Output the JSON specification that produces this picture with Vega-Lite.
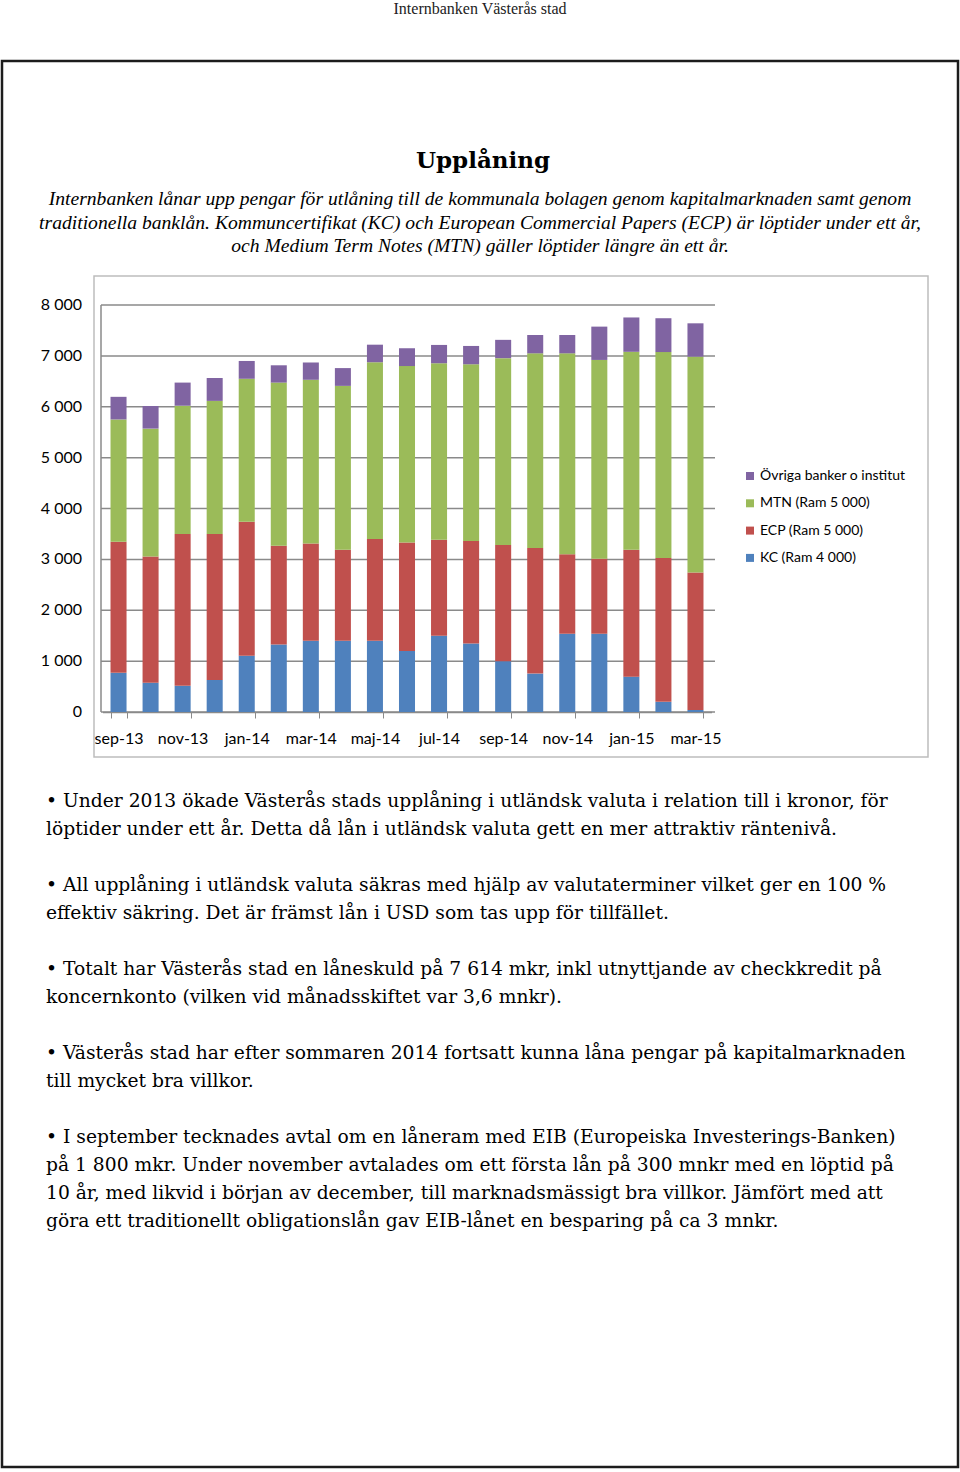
{
  "$schema": "https://vega.github.io/schema/vega-lite/v6.json",
  "width": 956,
  "height": 1406,
  "autosize": "none",
  "padding": {"left": 2, "top": 61, "right": 2, "bottom": 5},
  "background": "white",
  "title": {"text": "Internbanken Västerås stad", "font": "Liberation Serif", "fontSize": 16, "fontWeight": "normal", "color": "#222222", "anchor": "middle", "frame": "group", "offset": 44.5},
  "config": {
    "view": {"stroke": "#1c1c1c", "strokeWidth": 2.5},
    "text": {"baseline": "middle"},
    "locale": {"number": {"decimal": ",", "thousands": " ", "grouping": [3], "currency": ["", " kr"]}}
  },
  "datasets": {
    "grid": [{"v": 0}, {"v": 1000}, {"v": 2000}, {"v": 3000}, {"v": 4000}, {"v": 5000}, {"v": 6000}, {"v": 7000}, {"v": 8000}],
    "borrowing": [
      {"month": "sep-13", "serie": "KC (Ram 4 000)", "value": 770}, {"month": "sep-13", "serie": "ECP (Ram 5 000)", "value": 2575}, {"month": "sep-13", "serie": "MTN (Ram 5 000)", "value": 2405}, {"month": "sep-13", "serie": "Övriga banker o institut", "value": 445},
      {"month": "okt-13", "serie": "KC (Ram 4 000)", "value": 575}, {"month": "okt-13", "serie": "ECP (Ram 5 000)", "value": 2480}, {"month": "okt-13", "serie": "MTN (Ram 5 000)", "value": 2515}, {"month": "okt-13", "serie": "Övriga banker o institut", "value": 445},
      {"month": "nov-13", "serie": "KC (Ram 4 000)", "value": 515}, {"month": "nov-13", "serie": "ECP (Ram 5 000)", "value": 2985}, {"month": "nov-13", "serie": "MTN (Ram 5 000)", "value": 2520}, {"month": "nov-13", "serie": "Övriga banker o institut", "value": 455},
      {"month": "dec-13", "serie": "KC (Ram 4 000)", "value": 630}, {"month": "dec-13", "serie": "ECP (Ram 5 000)", "value": 2870}, {"month": "dec-13", "serie": "MTN (Ram 5 000)", "value": 2615}, {"month": "dec-13", "serie": "Övriga banker o institut", "value": 450},
      {"month": "jan-14", "serie": "KC (Ram 4 000)", "value": 1105}, {"month": "jan-14", "serie": "ECP (Ram 5 000)", "value": 2635}, {"month": "jan-14", "serie": "MTN (Ram 5 000)", "value": 2810}, {"month": "jan-14", "serie": "Övriga banker o institut", "value": 350},
      {"month": "feb-14", "serie": "KC (Ram 4 000)", "value": 1325}, {"month": "feb-14", "serie": "ECP (Ram 5 000)", "value": 1945}, {"month": "feb-14", "serie": "MTN (Ram 5 000)", "value": 3205}, {"month": "feb-14", "serie": "Övriga banker o institut", "value": 340},
      {"month": "mar-14", "serie": "KC (Ram 4 000)", "value": 1400}, {"month": "mar-14", "serie": "ECP (Ram 5 000)", "value": 1910}, {"month": "mar-14", "serie": "MTN (Ram 5 000)", "value": 3220}, {"month": "mar-14", "serie": "Övriga banker o institut", "value": 340},
      {"month": "apr-14", "serie": "KC (Ram 4 000)", "value": 1400}, {"month": "apr-14", "serie": "ECP (Ram 5 000)", "value": 1790}, {"month": "apr-14", "serie": "MTN (Ram 5 000)", "value": 3220}, {"month": "apr-14", "serie": "Övriga banker o institut", "value": 350},
      {"month": "maj-14", "serie": "KC (Ram 4 000)", "value": 1400}, {"month": "maj-14", "serie": "ECP (Ram 5 000)", "value": 2000}, {"month": "maj-14", "serie": "MTN (Ram 5 000)", "value": 3475}, {"month": "maj-14", "serie": "Övriga banker o institut", "value": 345},
      {"month": "jun-14", "serie": "KC (Ram 4 000)", "value": 1200}, {"month": "jun-14", "serie": "ECP (Ram 5 000)", "value": 2130}, {"month": "jun-14", "serie": "MTN (Ram 5 000)", "value": 3470}, {"month": "jun-14", "serie": "Övriga banker o institut", "value": 350},
      {"month": "jul-14", "serie": "KC (Ram 4 000)", "value": 1500}, {"month": "jul-14", "serie": "ECP (Ram 5 000)", "value": 1885}, {"month": "jul-14", "serie": "MTN (Ram 5 000)", "value": 3470}, {"month": "jul-14", "serie": "Övriga banker o institut", "value": 360},
      {"month": "aug-14", "serie": "KC (Ram 4 000)", "value": 1345}, {"month": "aug-14", "serie": "ECP (Ram 5 000)", "value": 2015}, {"month": "aug-14", "serie": "MTN (Ram 5 000)", "value": 3475}, {"month": "aug-14", "serie": "Övriga banker o institut", "value": 360},
      {"month": "sep-14", "serie": "KC (Ram 4 000)", "value": 1000}, {"month": "sep-14", "serie": "ECP (Ram 5 000)", "value": 2285}, {"month": "sep-14", "serie": "MTN (Ram 5 000)", "value": 3670}, {"month": "sep-14", "serie": "Övriga banker o institut", "value": 360},
      {"month": "okt-14", "serie": "KC (Ram 4 000)", "value": 755}, {"month": "okt-14", "serie": "ECP (Ram 5 000)", "value": 2470}, {"month": "okt-14", "serie": "MTN (Ram 5 000)", "value": 3825}, {"month": "okt-14", "serie": "Övriga banker o institut", "value": 360},
      {"month": "nov-14", "serie": "KC (Ram 4 000)", "value": 1540}, {"month": "nov-14", "serie": "ECP (Ram 5 000)", "value": 1560}, {"month": "nov-14", "serie": "MTN (Ram 5 000)", "value": 3950}, {"month": "nov-14", "serie": "Övriga banker o institut", "value": 360},
      {"month": "dec-14", "serie": "KC (Ram 4 000)", "value": 1540}, {"month": "dec-14", "serie": "ECP (Ram 5 000)", "value": 1470}, {"month": "dec-14", "serie": "MTN (Ram 5 000)", "value": 3910}, {"month": "dec-14", "serie": "Övriga banker o institut", "value": 655},
      {"month": "jan-15", "serie": "KC (Ram 4 000)", "value": 695}, {"month": "jan-15", "serie": "ECP (Ram 5 000)", "value": 2495}, {"month": "jan-15", "serie": "MTN (Ram 5 000)", "value": 3890}, {"month": "jan-15", "serie": "Övriga banker o institut", "value": 675},
      {"month": "feb-15", "serie": "KC (Ram 4 000)", "value": 200}, {"month": "feb-15", "serie": "ECP (Ram 5 000)", "value": 2825}, {"month": "feb-15", "serie": "MTN (Ram 5 000)", "value": 4050}, {"month": "feb-15", "serie": "Övriga banker o institut", "value": 665},
      {"month": "mar-15", "serie": "KC (Ram 4 000)", "value": 40}, {"month": "mar-15", "serie": "ECP (Ram 5 000)", "value": 2700}, {"month": "mar-15", "serie": "MTN (Ram 5 000)", "value": 4245}, {"month": "mar-15", "serie": "Övriga banker o institut", "value": 655}
    ],
    "lines": [
      {"block": "title", "id": "t", "text": "Upplåning"},
      {"block": "intro", "id": "i1", "text": "Internbanken lånar upp pengar för utlåning till de kommunala bolagen genom kapitalmarknaden samt genom"},
      {"block": "intro", "id": "i2", "text": "traditionella banklån. Kommuncertifikat (KC) och European Commercial Papers (ECP) är löptider under ett år,"},
      {"block": "intro", "id": "i3", "text": "och Medium Term Notes (MTN) gäller löptider längre än ett år."},
      {"block": "bullet", "id": "b1", "text": "• Under 2013 ökade Västerås stads upplåning i utländsk valuta i relation till i kronor, för"},
      {"block": "bullet", "id": "b2", "text": "löptider under ett år.  Detta då lån i utländsk valuta gett en mer attraktiv räntenivå."},
      {"block": "bullet", "id": "b3", "text": "• All upplåning i utländsk valuta säkras med hjälp av valutaterminer vilket ger en 100 %"},
      {"block": "bullet", "id": "b4", "text": "effektiv säkring. Det är främst lån i USD som tas upp för tillfället."},
      {"block": "bullet", "id": "b5", "text": "• Totalt har Västerås stad en låneskuld på 7 614 mkr, inkl utnyttjande av checkkredit på"},
      {"block": "bullet", "id": "b6", "text": "koncernkonto (vilken vid månadsskiftet var 3,6 mnkr)."},
      {"block": "bullet", "id": "b7", "text": "• Västerås stad har efter sommaren 2014 fortsatt kunna låna pengar på kapitalmarknaden"},
      {"block": "bullet", "id": "b8", "text": "till mycket bra villkor."},
      {"block": "bullet", "id": "b9", "text": "• I september tecknades avtal om en låneram med EIB (Europeiska Investerings-Banken)"},
      {"block": "bullet", "id": "b10", "text": "på 1 800 mkr. Under november avtalades om ett första lån på 300 mnkr med en löptid på"},
      {"block": "bullet", "id": "b11", "text": "10 år, med likvid i början av december, till marknadsmässigt bra villkor. Jämfört med att"},
      {"block": "bullet", "id": "b12", "text": "göra ett traditionellt obligationslån gav EIB-lånet en besparing på ca 3 mnkr."}
    ]
  },
  "layer": [
    {
      "layer": [
        {
          "data": {"name": "grid"},
          "encoding": {
            "x": {"datum": 0, "type": "quantitative", "scale": {"domain": [0, 1], "range": [99, 713]}, "axis": null},
            "y": {"field": "v", "type": "quantitative", "scale": {"domain": [0, 8000], "range": [651, 244], "nice": false, "zero": true}, "axis": null}
          },
          "layer": [
            {
              "mark": {"type": "rule", "color": "#8a8a8a", "strokeWidth": 1.5},
              "encoding": {"x2": {"datum": 1}}
            },
            {
              "mark": {"type": "rule", "color": "#8a8a8a", "strokeWidth": 1.5},
              "encoding": {
                "y": {"aggregate": "min", "field": "v", "type": "quantitative"},
                "y2": {"aggregate": "max", "field": "v"}
              }
            },
            {
              "mark": {"type": "text", "font": "Lato", "fontSize": 16, "color": "#000000", "align": "right", "dx": -19},
              "encoding": {
                "text": {"field": "v", "type": "quantitative", "format": ",d", "formatType": "number"}
              }
            }
          ]
        },
        {
          "data": {"name": "borrowing"},
          "transform": [{"calculate": "indexof(['KC (Ram 4 000)', 'ECP (Ram 5 000)', 'MTN (Ram 5 000)', 'Övriga banker o institut'], datum.serie)", "as": "k"}],
          "mark": {"type": "bar"},
          "encoding": {
            "x": {
              "field": "month", "type": "nominal", "sort": null,
              "scale": {"range": [100.5, 709.5], "paddingInner": 0.5, "paddingOuter": 0.25},
              "axis": {"orient": "bottom", "offset": -755, "values": ["sep-13", "nov-13", "jan-14", "mar-14", "maj-14", "jul-14", "sep-14", "nov-14", "jan-15", "mar-15"], "labelAngle": 0, "labelPadding": 12, "labelFont": "Lato", "labelFontSize": 16, "labelColor": "#000000", "domainColor": "#8a8a8a", "domainWidth": 1.5, "tickBand": "extent", "tickSize": 6, "tickColor": "#8a8a8a", "title": null, "grid": false}
            },
            "y": {
              "field": "value", "type": "quantitative", "stack": "zero",
              "scale": {"domain": [0, 8000], "range": [651, 244], "nice": false, "zero": true},
              "axis": null
            },
            "color": {
              "field": "serie", "type": "nominal",
              "scale": {"domain": ["KC (Ram 4 000)", "ECP (Ram 5 000)", "MTN (Ram 5 000)", "Övriga banker o institut"], "range": ["#4F81BD", "#C0504D", "#9BBB59", "#8064A2"]},
              "legend": {"orient": "none", "legendX": 741, "legendY": 408, "title": null, "values": ["Övriga banker o institut", "MTN (Ram 5 000)", "ECP (Ram 5 000)", "KC (Ram 4 000)"], "symbolType": "square", "symbolSize": 64, "symbolStrokeWidth": 0, "labelFont": "Lato", "labelFontSize": 14, "labelColor": "#000000", "rowPadding": 13.3, "labelOffset": 3}
            },
            "order": {"field": "k", "type": "quantitative"}
          }
        }
      ],
      "resolve": {"scale": {"x": "independent"}, "axis": {"x": "independent"}}
    },
    {
      "data": {"values": [{}]},
      "mark": {"type": "rect", "fill": "transparent", "stroke": "#bdbdbd", "strokeWidth": 1.5},
      "encoding": {
        "x": {"datum": 0, "type": "quantitative", "scale": {"domain": [0, 1], "range": [92, 926]}, "axis": null},
        "x2": {"datum": 1},
        "y": {"datum": 0, "type": "quantitative", "scale": {"domain": [0, 1], "range": [215, 696]}, "axis": null},
        "y2": {"datum": 1}
      }
    },
    {
      "data": {"name": "lines"},
      "transform": [{"filter": "datum.block == 'title'"}],
      "mark": {"type": "text", "font": "DejaVu Serif", "fontSize": 23, "fontWeight": "bold", "color": "#000000", "align": "center", "dx": 3},
      "encoding": {
        "y": {"field": "id", "type": "nominal", "scale": {"type": "point", "domain": ["t"], "range": [100, 100]}, "axis": null},
        "text": {"field": "text"}
      }
    },
    {
      "data": {"name": "lines"},
      "transform": [{"filter": "datum.block == 'intro'"}],
      "mark": {"type": "text", "font": "Liberation Serif", "fontSize": 19.6, "fontStyle": "italic", "color": "#000000", "align": "center"},
      "encoding": {
        "y": {"field": "id", "type": "nominal", "scale": {"type": "point", "domain": ["i1", "i2", "i3"], "range": [138, 185], "padding": 0}, "axis": null},
        "text": {"field": "text"}
      }
    },
    {
      "data": {"name": "lines"},
      "transform": [{"filter": "datum.block == 'bullet'"}],
      "mark": {"type": "text", "font": "DejaVu Serif", "fontSize": 18.7, "color": "#000000", "align": "left", "dx": -434},
      "encoding": {
        "y": {"field": "id", "type": "nominal", "scale": {"type": "point", "domain": ["b1", "b2", "g1", "b3", "b4", "g2", "b5", "b6", "g3", "b7", "b8", "g4", "b9", "b10", "b11", "b12"], "range": [740, 1160], "padding": 0}, "axis": null},
        "text": {"field": "text"}
      }
    }
  ],
  "resolve": {"scale": {"x": "independent", "y": "independent"}}
}
